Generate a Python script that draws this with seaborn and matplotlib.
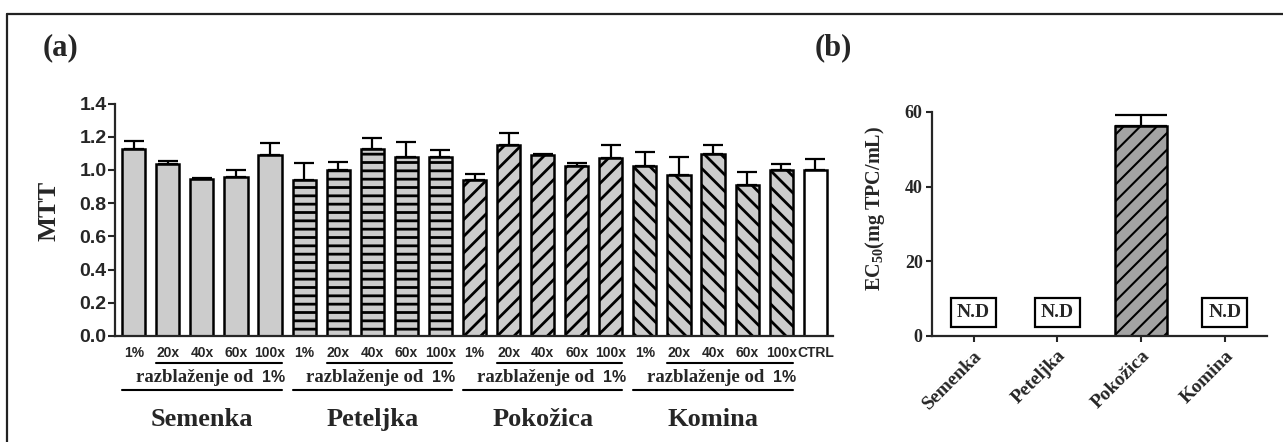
import numpy as np
import pandas as pd
import matplotlib
matplotlib.use("Agg")
import matplotlib.pyplot as plt
import matplotlib.transforms as mtransforms
from matplotlib.lines import Line2D
import seaborn as sns

# ---- MTT assay: mean cell viability and upper SD per extract dilution ----
groups = ["Semenka", "Peteljka", "Pokožica", "Komina"]
dilutions = ["1%", "20x", "40x", "60x", "100x"]
ctrl_label = "CTRL"
dilution_note = "razblaženje od"
dilution_base = "1%"

mtt_semenka = [1.127, 1.037, 0.947, 0.957, 1.087]
mtt_peteljka = [0.937, 0.997, 1.127, 1.077, 1.077]
mtt_pokozica = [0.937, 1.151, 1.091, 1.021, 1.071]
mtt_komina = [1.021, 0.967, 1.097, 0.907, 0.997]
mtt_ctrl = 0.997

sd_semenka = [0.046, 0.016, 0.006, 0.040, 0.076]
sd_peteljka = [0.106, 0.050, 0.066, 0.094, 0.040]
sd_pokozica = [0.040, 0.072, 0.006, 0.020, 0.080]
sd_komina = [0.086, 0.110, 0.054, 0.080, 0.040]
sd_ctrl = 0.070

mtt_ticks = [0.0, 0.2, 0.4, 0.6, 0.8, 1.0, 1.2, 1.4]

# ---- EC50 values (mg TPC/mL); N.D = not determined ----
ec50_labels = groups
ec50_values = [np.nan, np.nan, 56.2, np.nan]
ec50_sd = [np.nan, np.nan, 3.0, np.nan]
ec50_ticks = [0, 20, 40, 60]
nd_label = "N.D"

# ---- tidy table for the MTT panel ----
mtt_vals = mtt_semenka + mtt_peteljka + mtt_pokozica + mtt_komina + [mtt_ctrl]
mtt_sd = sd_semenka + sd_peteljka + sd_pokozica + sd_komina + [sd_ctrl]
mtt_group = sum([[g] * len(dilutions) for g in groups], []) + [ctrl_label]
mtt_xlabels = dilutions * len(groups) + [ctrl_label]
df = pd.DataFrame({
    "pos": np.arange(len(mtt_vals)),
    "group": mtt_group,
    "label": mtt_xlabels,
    "mtt": mtt_vals,
    "sd": mtt_sd,
})

sns.set_style("ticks")
plt.rcParams["font.family"] = ["Liberation Serif", "DejaVu Serif"]
plt.rcParams["hatch.linewidth"] = 2.0
plt.rcParams["axes.linewidth"] = 1.6

SERIF = "Liberation Serif"
SANS = "Liberation Sans"

W, H, DPI = 1283, 442, 100
fig = plt.figure(figsize=(W / DPI, H / DPI), dpi=DPI)


def fx(px):
    return px / W


def fy(py):
    return 1 - py / H


axL = fig.add_axes([fx(115), fy(336), (833 - 115) / W, (336 - 103.5) / H])
axR = fig.add_axes([fx(931.7), fy(336), (1266.7 - 931.7) / W, (336 - 112) / H])

# ---- panel (a) ----
sns.barplot(data=df, x="pos", y="mtt", ax=axL, width=0.68, color="#cccccc",
            edgecolor="black", linewidth=1.8, errorbar=None, saturation=1)

group_style = {
    "Semenka": ("#cccccc", ""),
    "Peteljka": ("#cccccc", "--"),
    "Pokožica": ("#cccccc", "//"),
    "Komina": ("#cccccc", "\\\\"),
    ctrl_label: ("#ffffff", ""),
}
for patch, grp in zip(axL.patches, df["group"]):
    fc, hatch = group_style[grp]
    patch.set_facecolor(fc)
    patch.set_hatch(hatch)
    patch.set_edgecolor("black")

axL.errorbar(df["pos"], df["mtt"], yerr=[np.zeros(len(df)), df["sd"]],
             fmt="none", ecolor="black", elinewidth=1.6, capsize=7, capthick=1.6,
             zorder=3)

axL.set_xlim(-0.55, 20.52)
axL.set_ylim(0, 1.4)
axL.set_yticks(mtt_ticks)
axL.set_yticklabels([f"{t:.1f}" for t in mtt_ticks], fontfamily=SANS,
                    fontweight="bold", fontsize=14)
axL.set_xticks(df["pos"])
axL.set_xticklabels(df["label"], fontfamily=SANS, fontweight="bold", fontsize=10)
axL.tick_params(axis="x", length=0, pad=7)
axL.tick_params(axis="y", length=5, width=1.5, pad=1)
axL.set_xlabel("")
axL.set_ylabel("MTT", fontfamily=SERIF, fontweight="bold", fontsize=19)
axL.yaxis.set_label_coords(-0.0766, 0.54)
sns.despine(ax=axL)

# group brackets below the dilution labels
trans = mtransforms.blended_transform_factory(axL.transData, fig.transFigure)
half = 0.34
for k, grp in enumerate(groups):
    p0, p1, p4 = 5 * k, 5 * k + 1, 5 * k + 4
    fig.add_artist(Line2D([p1 - half, p4 + half], [fy(363), fy(363)],
                          transform=trans, color="black", lw=1.5))
    fig.add_artist(Line2D([p0 - half, p4 + half], [fy(390), fy(390)],
                          transform=trans, color="black", lw=1.5))
    right = p4 + half + 0.1
    fig.text(right, fy(382), dilution_base, transform=trans, ha="right",
             va="baseline", fontfamily=SANS, fontweight="bold", fontsize=11.5)
    fig.text(right - 0.93, fy(382), dilution_note, transform=trans, ha="right",
             va="baseline", fontfamily=SERIF, fontweight="bold", fontsize=13.5)
    fig.text((p0 + p4) / 2, fy(426), grp, transform=trans, ha="center",
             va="baseline", fontfamily=SERIF, fontweight="bold", fontsize=19)

# ---- panel (b) ----
with plt.rc_context({"hatch.linewidth": 1.5}):
    sns.barplot(x=ec50_labels, y=ec50_values, order=ec50_labels, ax=axR,
                width=0.62, color="#a3a3a3", edgecolor="black", linewidth=1.8,
                errorbar=None, saturation=1)
for patch in axR.patches:
    patch.set_facecolor("#a3a3a3")
    patch.set_hatch("//")
    patch.set_edgecolor("black")
    if hasattr(patch, "set_hatch_linewidth"):
        patch.set_hatch_linewidth(1.5)

ec_pos = np.arange(len(ec50_labels))
ec_vals = np.array(ec50_values, dtype=float)
ec_err = np.array(ec50_sd, dtype=float)
ok = np.isfinite(ec_vals)
axR.errorbar(ec_pos[ok], ec_vals[ok], yerr=[np.zeros(ok.sum()), ec_err[ok]],
             fmt="none", ecolor="black", elinewidth=1.6, capsize=19, capthick=1.6,
             zorder=3)
for i, v in enumerate(ec_vals):
    if not np.isfinite(v):
        axR.text(i, 6.3, nd_label, ha="center", va="center", fontfamily=SERIF,
                 fontweight="bold", fontsize=14,
                 bbox=dict(boxstyle="square,pad=0.3", fc="white", ec="black", lw=1.6))

axR.set_xlim(-0.5, 3.5)
axR.set_ylim(0, 60)
axR.set_yticks(ec50_ticks)
axR.set_yticklabels([str(t) for t in ec50_ticks], fontfamily=SERIF,
                    fontweight="bold", fontsize=13)
axR.set_xticks(ec_pos)
axR.set_xticklabels(ec50_labels, fontfamily=SERIF, fontweight="bold", fontsize=14,
                    rotation=45, ha="right", rotation_mode="anchor")
axR.tick_params(axis="x", length=4, width=1.5, pad=4)
axR.tick_params(axis="y", length=4.5, width=1.5, pad=2)
axR.set_xlabel("")
axR.set_ylabel(r"EC$\mathregular{_{50}}$(mg TPC/mL)", fontfamily=SERIF,
               fontweight="bold", fontsize=14.5)
axR.yaxis.set_label_coords(-0.1334, 0.57)
sns.despine(ax=axR)

# ---- panel letters and frame ----
fig.text(fx(43), fy(47.5), "(a)", ha="left", va="center", fontfamily=SERIF,
         fontweight="bold", fontsize=22)
fig.text(fx(815), fy(47.5), "(b)", ha="left", va="center", fontfamily=SERIF,
         fontweight="bold", fontsize=22)
fig.add_artist(Line2D([fx(7), 1.0], [fy(14), fy(14)], color="#222222", lw=1.6))
fig.add_artist(Line2D([fx(7), fx(7)], [fy(14), 0.0], color="#222222", lw=1.6))

fig.savefig("out.png", dpi=DPI)
